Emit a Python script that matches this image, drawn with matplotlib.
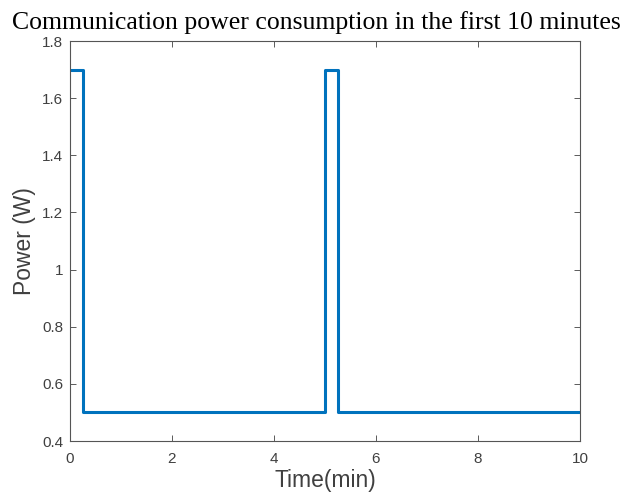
import matplotlib
matplotlib.use("Agg")
import matplotlib.pyplot as plt

time_min = [0, 0.25, 0.25, 5.0, 5.0, 5.25, 5.25, 10.0]
power_w = [1.7, 1.7, 0.5, 0.5, 1.7, 1.7, 0.5, 0.5]
xticks = [0, 2, 4, 6, 8, 10]
yticks = [0.4, 0.6, 0.8, 1.0, 1.2, 1.4, 1.6, 1.8]
ytick_labels = ["0.4", "0.6", "0.8", "1", "1.2", "1.4", "1.6", "1.8"]

plt.rcParams['font.family'] = ['Liberation Sans', 'DejaVu Sans']
fig = plt.figure(figsize=(6.33, 4.94), dpi=100)
ax = fig.add_axes([70/633, 1-441/494, 510/633, 400/494])
ax.plot(time_min, power_w, color='#0072BD', linewidth=2.2)
ax.set_xlim(0, 10)
ax.set_ylim(0.4, 1.8)
ax.set_xticks(xticks)
ax.set_yticks(yticks)
ax.set_yticklabels(ytick_labels)
ax.tick_params(direction='in', top=True, right=True, labelsize=11, colors='#404040',
               length=4, width=0.6, pad=5)
ax.tick_params(axis='x', pad=8)
for s in ax.spines.values():
    s.set_color('#555555')
    s.set_linewidth(0.8)
ax.set_xlabel('Time(min)', fontsize=16.5, color='#404040', labelpad=2)
ax.set_ylabel('Power (W)', fontsize=16.5, color='#404040', labelpad=4)
fig.text(0.5, 1-23/494, 'Communication power consumption in the first 10 minutes',
         ha='center', va='center', fontsize=18.5,
         family=['Liberation Serif', 'DejaVu Serif'], color='black')
fig.savefig('out.png', dpi=100)
